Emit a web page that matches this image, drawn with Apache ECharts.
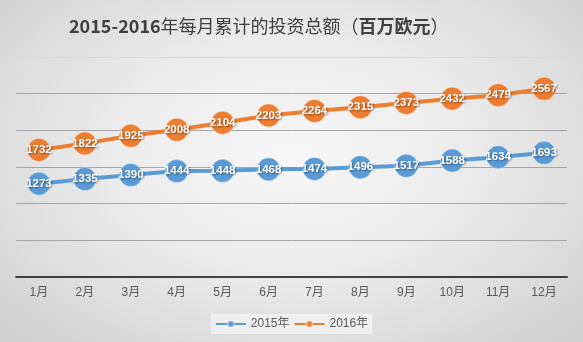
<!DOCTYPE html>
<html><head><meta charset="utf-8">
<script src="https://cdn.jsdelivr.net/npm/echarts@6/dist/echarts.min.js"></script>
<style>html,body{margin:0;padding:0;}#c{width:583px;height:342px;background:radial-gradient(ellipse at 50% 45%, #f7f7f7 0%, #ebebeb 45%, #cfcfcf 100%);}</style>
</head><body><div id="c"></div>
<script>
const titleParts = ['2015-2016', '年每月累计的投资总额', '（', '百万欧元', '）'];
const months = ['1月','2月','3月','4月','5月','6月','7月','8月','9月','10月','11月','12月'];
const seriesNames = ['2015年','2016年'];
const values2015 = [1273,1335,1390,1444,1448,1468,1474,1496,1517,1588,1634,1693];
const values2016 = [1732,1822,1925,2008,2104,2203,2264,2315,2373,2432,2479,2567];

const chart = echarts.init(document.getElementById('c'), null, {renderer:'canvas'});
function mk(name, data, color){
  return {
    name, type:'line', data,
    symbol:'circle', symbolSize:23,
    lineStyle:{color, width:4},
    itemStyle:{color, borderColor:'rgba(255,255,255,0.35)', borderWidth:1},
    label:{show:true, position:'inside', color:'#fff', fontSize:11.5, fontWeight:'bold',
      fontFamily:'Liberation Sans, Arial, sans-serif',
      textShadowColor:'rgba(0,0,0,0.45)', textShadowBlur:2, textShadowOffsetX:1, textShadowOffsetY:1},
    z:3
  };
}
const tf = 'Noto Sans CJK SC, sans-serif';
chart.setOption({
  animation:false,
  title:{text:'{a|'+titleParts[0]+'}{b|'+titleParts[1]+'}{b|'+titleParts[2]+'}{a|'+titleParts[3]+'}{b|'+titleParts[4]+'}', left:64, top:12,
    textStyle:{rich:{
      a:{fontSize:18, fontWeight:'bold', color:'#404040', fontFamily:tf},
      b:{fontSize:18, fontWeight:'normal', color:'#404040', fontFamily:tf}
    }}},
  grid:{left:16, right:16, top:57, bottom:65},
  legend:{bottom:8, left:'center', itemWidth:30, itemHeight:8, itemGap:4,
    backgroundColor:'rgba(245,245,245,0.7)', padding:[4,4],
    textStyle:{fontSize:12, color:'#595959', fontFamily:'Liberation Sans, Noto Sans CJK SC, sans-serif'},
    data:seriesNames},
  xAxis:{type:'category', data:months, boundaryGap:true,
    axisLine:{lineStyle:{color:'#404040', width:2}},
    axisTick:{show:false},
    axisLabel:{color:'#595959', fontSize:12, margin:10, fontFamily:'Liberation Sans, Noto Sans CJK SC, sans-serif'}},
  yAxis:{type:'value', min:0, max:3000, interval:500,
    axisLine:{show:false}, axisTick:{show:false}, axisLabel:{show:false},
    splitLine:{lineStyle:{color:['#a6a6a6','#a6a6a6','#a6a6a6','#a6a6a6','#a6a6a6','#a6a6a6','#dadada'], width:1}}},
  series:[mk(seriesNames[0], values2015, '#5b9bd5'), mk(seriesNames[1], values2016, '#ed7d31')]
});
</script></body></html>
